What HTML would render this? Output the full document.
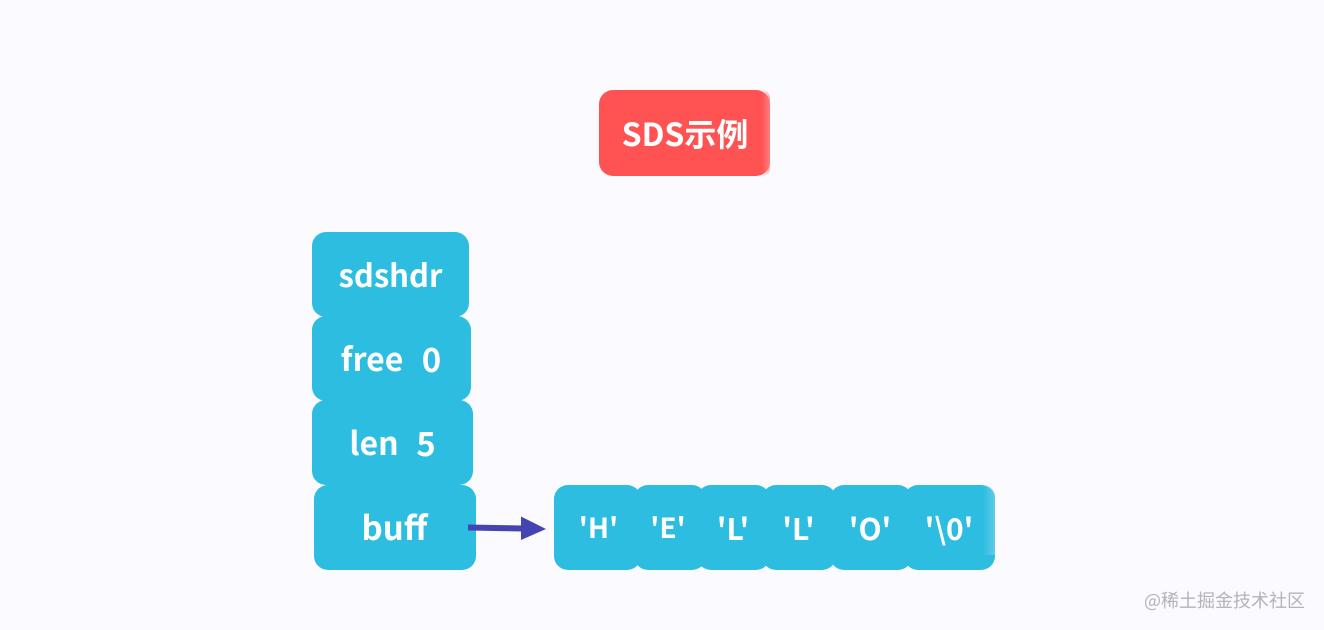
<!DOCTYPE html>
<html>
<head>
<meta charset="utf-8">
<style>
html,body{margin:0;padding:0}
body{width:1324px;height:630px;background:#fafaff;position:relative;overflow:hidden;font-family:"Noto Sans CJK SC","Liberation Sans",sans-serif}
.b{position:absolute;background:#2dbde1;border-radius:14px}
.t{position:absolute;color:#fff;font-weight:700;font-size:32px;line-height:44px;white-space:pre;transform:translateX(-50%)}
.s{font-size:30px}
.n{font-size:28px}
.f{position:absolute;top:0;bottom:0;right:0;width:8px;border-radius:0 14px 14px 0}
</style>
</head>
<body>
<div class="b" style="left:599px;top:90px;width:171px;height:86px;background:#ff5353"><div class="f" style="background:linear-gradient(90deg,rgba(255,83,83,0),rgba(255,140,140,.75))"></div></div>
<div class="t" style="left:685px;top:111px">SDS示例</div>

<div class="b" style="left:312px;top:232px;width:157px;height:85px"></div>
<div class="b" style="left:312px;top:316px;width:159px;height:85px"></div>
<div class="b" style="left:312px;top:400px;width:161px;height:85px"></div>
<div class="b" style="left:314px;top:485px;width:162px;height:85px"></div>

<div class="b" style="left:554px;top:485px;width:87px;height:85px"></div>
<div class="b" style="left:634px;top:485px;width:72px;height:85px"></div>
<div class="b" style="left:697px;top:485px;width:73px;height:85px"></div>
<div class="b" style="left:762px;top:485px;width:74px;height:85px"></div>
<div class="b" style="left:830px;top:485px;width:82px;height:85px"></div>
<div class="b" style="left:904px;top:485px;width:91px;height:85px"><div class="f" style="width:12px;height:70px;bottom:auto;border-radius:0 14px 0 0;background:linear-gradient(90deg,rgba(45,189,225,0),rgba(100,205,232,.9))"></div></div>

<div class="t" style="left:390.5px;top:252px;font-size:31px">sdshdr</div>
<div class="t" style="left:372px;top:336px">free</div>
<div class="t" style="left:431.5px;top:336px;font-size:33px">0</div>
<div class="t" style="left:374px;top:420px">len</div>
<div class="t" style="left:426px;top:420px;font-size:33px">5</div>
<div class="t" style="left:394.5px;top:504px;font-size:33px">buff</div>

<div class="t n" style="left:598.5px;top:505px">'H'</div>
<div class="t n" style="left:668px;top:505px">'E'</div>
<div class="t s" style="left:733px;top:505px">'L'</div>
<div class="t s" style="left:798.5px;top:505px">'L'</div>
<div class="t s" style="left:870px;top:505px">'O'</div>
<div class="t s" style="left:949px;top:505px">'\0'</div>

<svg style="position:absolute;left:0;top:0" width="1324" height="630">
<line x1="468" y1="527.5" x2="523" y2="528.5" stroke="#4444b2" stroke-width="6"/>
<polygon points="521,516.5 546,529 521,540" fill="#4444b2"/>
</svg>

<div style="position:absolute;left:1144px;top:589px;font-size:18px;line-height:22px;color:#b3b3b8;white-space:pre;font-weight:400">@稀土掘金技术社区</div>
</body>
</html>
